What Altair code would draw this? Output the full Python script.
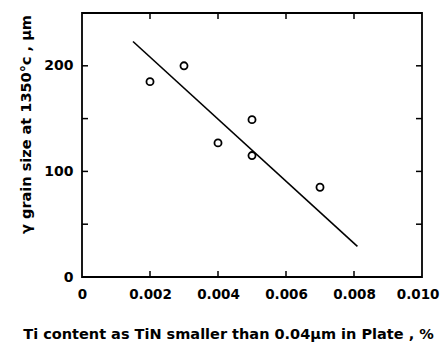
import altair as alt
import pandas as pd

# data
ti_content = [0.002, 0.003, 0.004, 0.005, 0.005, 0.007]
grain_size = [185, 200, 127, 149, 115, 85]
fit_x = [0.0015, 0.0081]
fit_y = [223, 29]
x_tick_values = [0.0, 0.002, 0.004, 0.006, 0.008, 0.010]
x_inner_ticks = [0.002, 0.004, 0.006, 0.008]
y_label_values = [0, 100, 200]
y_inner_ticks = [50, 100, 150, 200]

W, H = 340, 264
FONT = "DejaVu Sans"

pts = pd.DataFrame({"x": ti_content, "y": grain_size})
fit = pd.DataFrame({"x": fit_x, "y": fit_y})
xt = pd.DataFrame({"x": x_inner_ticks})
yt = pd.DataFrame({"y": y_inner_ticks})

xscale = alt.Scale(domain=[0, 0.010], nice=False, zero=False)
yscale = alt.Scale(domain=[0, 250], nice=False, zero=False)

last_test = "datum.value >= 0.0099"
x_axis = alt.Axis(
    values=x_tick_values,
    labelExpr="datum.value == 0 ? '0' : format(datum.value, '.3f')",
    ticks=False, domain=False, grid=False,
    labelFont=FONT, labelFontSize=13.5, labelFontWeight="bold", labelColor="black",
    labelPadding=10, labelFlush=False,
    labelAlign={"condition": {"test": last_test, "value": "right"}, "value": "center"},
    labelOffset={"condition": {"test": last_test, "value": 17}, "value": 0},
    title="Ti content as TiN smaller than 0.04μm in Plate , %",
    titleFont=FONT, titleFontSize=14.5, titleFontWeight="bold", titleColor="black",
    titleBaseline="alphabetic", titleY=61, titleX=146, titleAlign="center",
)
y_axis = alt.Axis(
    values=y_label_values,
    ticks=False, domain=False, grid=False,
    labelFont=FONT, labelFontSize=14, labelFontWeight="bold", labelColor="black",
    labelPadding=9, labelFlush=False,
    title="γ grain size at 1350°c , μm",
    titleFont=FONT, titleFontSize=14.5, titleFontWeight="bold", titleColor="black",
    titleBaseline="alphabetic", titleX=-52, titleY=111, titleAlign="center", titleAngle=-90,
)

points = alt.Chart(pts).mark_point(
    shape="circle", filled=False, color="black", size=50, strokeWidth=1.8, opacity=1
).encode(
    x=alt.X("x:Q", scale=xscale, axis=x_axis),
    y=alt.Y("y:Q", scale=yscale, axis=y_axis),
)

line = alt.Chart(fit).mark_line(color="black", strokeWidth=1.6).encode(
    x=alt.X("x:Q", scale=xscale), y=alt.Y("y:Q", scale=yscale)
)

left_ticks = alt.Chart(yt).mark_rule(color="black", strokeWidth=1.5).encode(
    y=alt.Y("y:Q", scale=yscale), x=alt.value(0), x2=alt.value(6)
)
right_ticks = alt.Chart(yt).mark_rule(color="black", strokeWidth=1.5).encode(
    y=alt.Y("y:Q", scale=yscale), x=alt.value(W - 6), x2=alt.value(W)
)
top_ticks = alt.Chart(xt).mark_rule(color="black", strokeWidth=1.5).encode(
    x=alt.X("x:Q", scale=xscale), y=alt.value(0), y2=alt.value(6)
)
bottom_ticks = alt.Chart(xt).mark_rule(color="black", strokeWidth=1.5).encode(
    x=alt.X("x:Q", scale=xscale), y=alt.value(H - 6), y2=alt.value(H)
)

chart = alt.layer(
    left_ticks, right_ticks, top_ticks, bottom_ticks, line, points
).properties(
    width=W, height=H,
    background="white",
    autosize=alt.AutoSizeParams(type="none"),
    padding={"left": 82, "top": 13, "right": 18, "bottom": 68},
).configure_view(
    stroke="black", strokeWidth=1.8
)

chart.save("out.html", embed_options={"renderer": "svg", "actions": False})
